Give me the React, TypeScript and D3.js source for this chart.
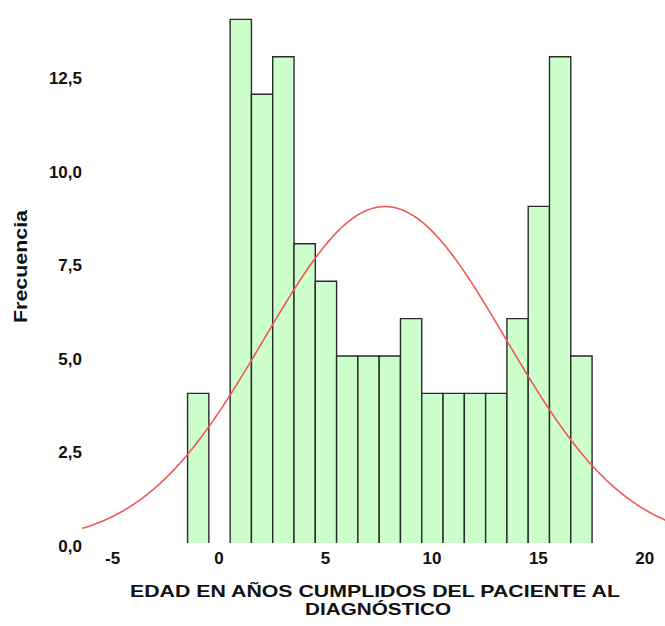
import React from "react";
import * as d3 from "d3";

// Age bins (years, centre of each 1-year bin) and patient counts
const binCenters = [-1, 1, 2, 3, 4, 5, 6, 7, 8, 9, 10, 11, 12, 13, 14, 15, 16, 17];
const counts = [4, 14, 12, 13, 8, 7, 5, 5, 5, 6, 4, 4, 4, 4, 6, 9, 13, 5];
const xTicks = [-5, 0, 5, 10, 15, 20];
const yTicks = [0, 2.5, 5, 7.5, 10, 12.5];
const binWidth = 1;

const W = 665;
const H = 626;

const fmt = (v: number) => v.toFixed(1).replace(".", ",");

export default function App() {
  const x = d3.scaleLinear().domain([-5, 20]).range([113.05, 645.3]);
  const y = d3.scaleLinear().domain([0, 14]).range([543, 19.4]);

  // Normal curve fitted from the binned data
  const n = d3.sum(counts);
  const mean = d3.sum(binCenters.map((c, i) => c * counts[i])) / n;
  const variance =
    d3.sum(binCenters.map((c, i) => counts[i] * (c - mean) ** 2)) / (n - 1);
  const sd = Math.sqrt(variance);
  const density = (v: number) =>
    (n * binWidth * Math.exp(-0.5 * ((v - mean) / sd) ** 2)) /
    (sd * Math.sqrt(2 * Math.PI));
  const curveXs = d3.range(-6.45, 22.01, 0.05);
  const line = d3
    .line<number>()
    .x((v) => x(v))
    .y((v) => y(density(v)))
    .curve(d3.curveLinear);

  const font = "'Liberation Sans', Arial, sans-serif";

  return (
    <svg
      width={W}
      height={H}
      style={{ position: "absolute", left: 0, top: 0, background: "#fff" }}
      fontFamily={font}
    >
      <rect x={0} y={0} width={W} height={H} fill="#fff" />
      {binCenters.map((c, i) => {
        const x0 = x(c - binWidth / 2);
        const x1 = x(c + binWidth / 2);
        const yt = y(counts[i]);
        const y0 = y(0);
        return (
          <g key={i}>
            <rect x={x0} y={yt} width={x1 - x0} height={y0 - yt} fill="#ccffcc" />
            <path
              d={`M${x0},${y0}V${yt}H${x1}V${y0}`}
              fill="none"
              stroke="#2a2a2a"
              strokeWidth={1.4}
            />
          </g>
        );
      })}
      <path d={line(curveXs) ?? ""} fill="none" stroke="#f05858" strokeWidth={1.6} />

      {yTicks.map((t) => (
        <text
          key={t}
          x={82}
          y={y(t) + 8.5}
          textAnchor="end"
          fontSize={17}
          fontWeight="bold"
          fill="#111"
        >
          {fmt(t)}
        </text>
      ))}
      {xTicks.map((t) => (
        <text
          key={t}
          x={x(t) - 0.5}
          y={564}
          textAnchor="middle"
          fontSize={17}
          fontWeight="bold"
          fill="#111"
        >
          {t}
        </text>
      ))}

      <text
        transform="translate(27,266.5) rotate(-90)"
        textAnchor="middle"
        fontSize={18.5}
        fontWeight="bold"
        fill="#111"
        textLength={113}
        lengthAdjust="spacingAndGlyphs"
      >
        Frecuencia
      </text>
      <text
        x={375}
        y={597}
        textAnchor="middle"
        fontSize={17}
        fontWeight="bold"
        fill="#111"
        textLength={490}
        lengthAdjust="spacingAndGlyphs"
      >
        EDAD EN AÑOS CUMPLIDOS DEL PACIENTE AL
      </text>
      <text
        x={378}
        y={615}
        textAnchor="middle"
        fontSize={17}
        fontWeight="bold"
        fill="#111"
        textLength={146}
        lengthAdjust="spacingAndGlyphs"
      >
        DIAGNÓSTICO
      </text>
    </svg>
  );
}
